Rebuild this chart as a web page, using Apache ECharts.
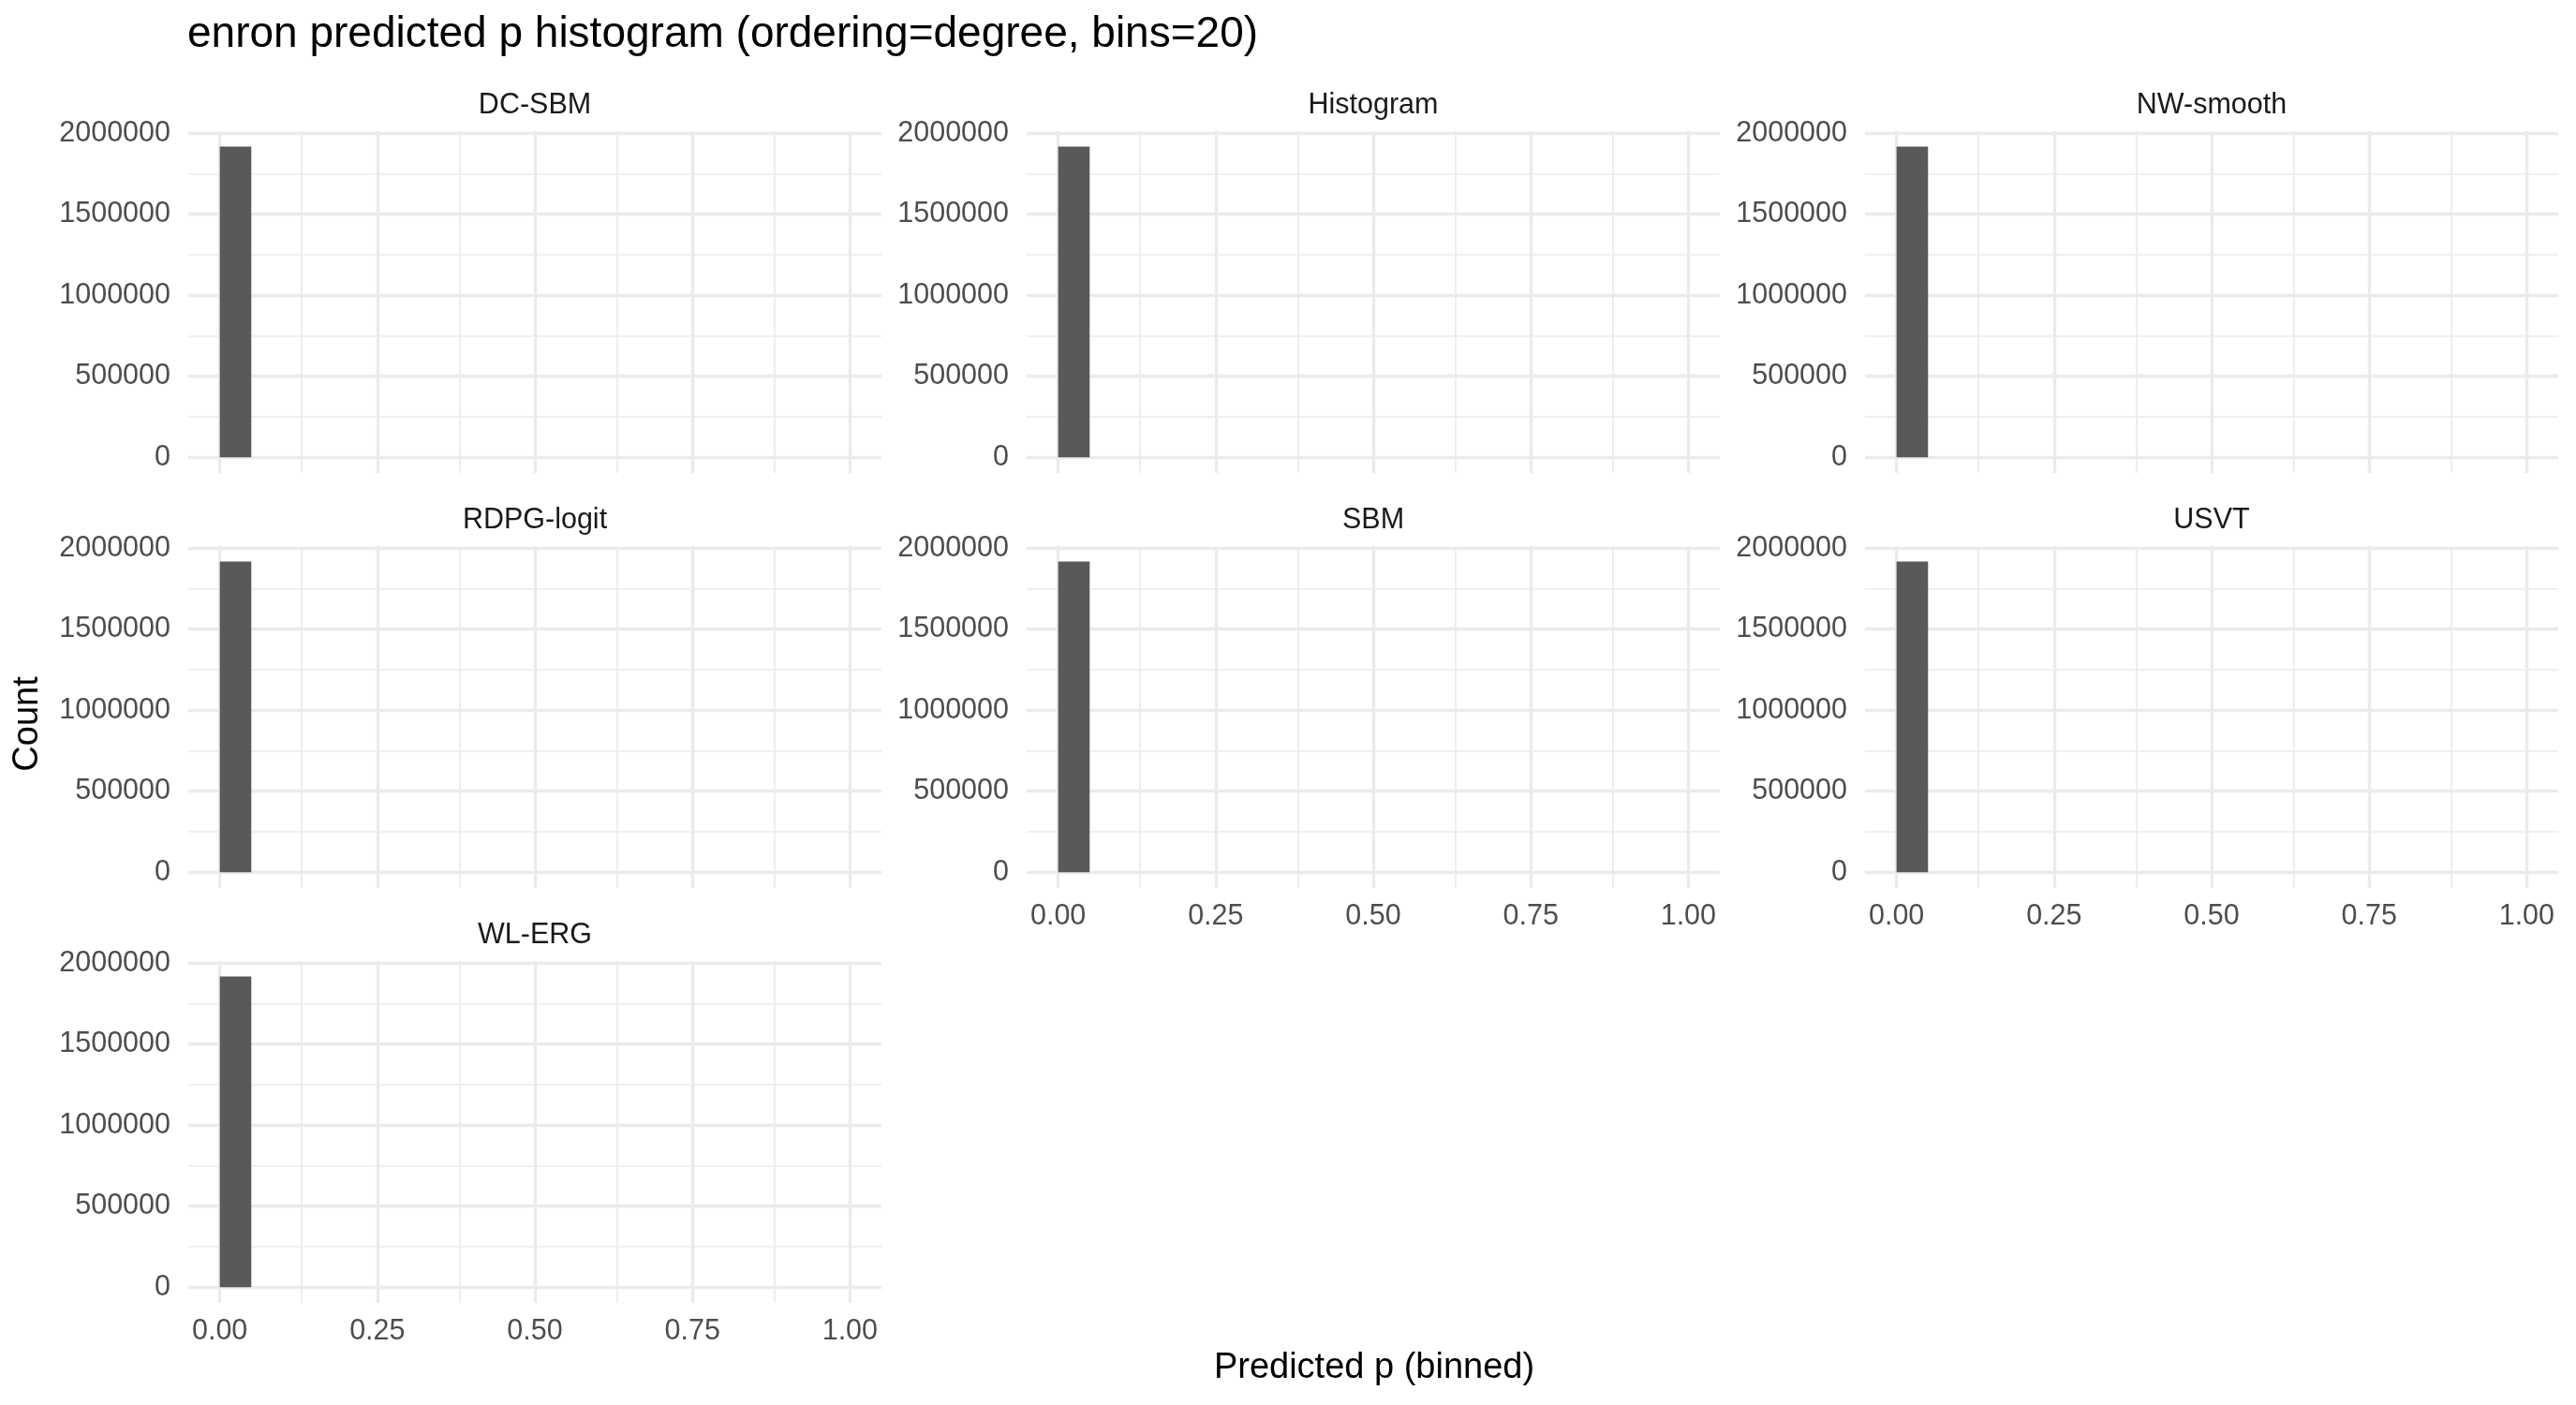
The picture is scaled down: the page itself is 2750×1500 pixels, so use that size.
<!DOCTYPE html>
<html>
<head>
<meta charset="utf-8">
<script src="https://cdn.jsdelivr.net/npm/echarts@6/dist/echarts.min.js"></script>
<style>
html,body{margin:0;padding:0;background:#fff;}
#chart{width:2750px;height:1500px;}
</style>
</head>
<body>
<div id="chart"></div>
<script>
// ---- data ----
const panelNames = ['DC-SBM', 'Histogram', 'NW-smooth', 'RDPG-logit', 'SBM', 'USVT', 'WL-ERG'];
const binLeft  = [0.00, 0.05, 0.10, 0.15, 0.20, 0.25, 0.30, 0.35, 0.40, 0.45, 0.50, 0.55, 0.60, 0.65, 0.70, 0.75, 0.80, 0.85, 0.90, 0.95];
const binRight = [0.05, 0.10, 0.15, 0.20, 0.25, 0.30, 0.35, 0.40, 0.45, 0.50, 0.55, 0.60, 0.65, 0.70, 0.75, 0.80, 0.85, 0.90, 0.95, 1.00];
const countsDCSBM     = [1917000, 0, 0, 0, 0, 0, 0, 0, 0, 0, 0, 0, 0, 0, 0, 0, 0, 0, 0, 0];
const countsHistogram = [1917000, 0, 0, 0, 0, 0, 0, 0, 0, 0, 0, 0, 0, 0, 0, 0, 0, 0, 0, 0];
const countsNWsmooth  = [1917000, 0, 0, 0, 0, 0, 0, 0, 0, 0, 0, 0, 0, 0, 0, 0, 0, 0, 0, 0];
const countsRDPGlogit = [1917000, 0, 0, 0, 0, 0, 0, 0, 0, 0, 0, 0, 0, 0, 0, 0, 0, 0, 0, 0];
const countsSBM       = [1917000, 0, 0, 0, 0, 0, 0, 0, 0, 0, 0, 0, 0, 0, 0, 0, 0, 0, 0, 0];
const countsUSVT      = [1917000, 0, 0, 0, 0, 0, 0, 0, 0, 0, 0, 0, 0, 0, 0, 0, 0, 0, 0, 0];
const countsWLERG     = [1917000, 0, 0, 0, 0, 0, 0, 0, 0, 0, 0, 0, 0, 0, 0, 0, 0, 0, 0, 0];
const xTicks = [0, 0.25, 0.5, 0.75, 1.0];
const xMinorTicks = [0.125, 0.375, 0.625, 0.875];
const yTicks = [0, 500000, 1000000, 1500000, 2000000];
const yMinorTicks = [250000, 750000, 1250000, 1750000];
const titleText = 'enron predicted p histogram (ordering=degree, bins=20)';
const xTitle = 'Predicted p (binned)';
const yTitle = 'Count';

// ---- layout ----
const allCounts = [countsDCSBM, countsHistogram, countsNWsmooth, countsRDPGlogit, countsSBM, countsUSVT, countsWLERG];
const colLeft = [201, 1096, 1991];
const rowTop = [140, 583, 1026];
const PW = 740, PH = 365;
const xMin = -0.05, xMax = 1.05;
const yMin = -97000, yMax = 2012700;
const FONT = '"Liberation Sans", Arial, Helvetica, sans-serif';
const gridColor = '#EBEBEB';

const grids = [], xAxes = [], yAxes = [], series = [], graphics = [];

panelNames.forEach((name, i) => {
  const r = Math.floor(i / 3), c = i % 3;
  const showX = (i >= 4); // bottom panel of each column
  grids.push({left: colLeft[c], top: rowTop[r], width: PW, height: PH, containLabel: false});
  xAxes.push({
    type: 'value', gridIndex: i, min: xMin, max: xMax,
    axisLine: {show: false}, axisTick: {show: false}, splitLine: {show: false},
    axisLabel: {
      show: showX, customValues: xTicks, margin: 15,
      formatter: v => Number(v).toFixed(2),
      color: '#4D4D4D', fontSize: 30.5, fontFamily: FONT
    }
  });
  yAxes.push({
    type: 'value', gridIndex: i, min: yMin, max: yMax,
    axisLine: {show: false}, axisTick: {show: false}, splitLine: {show: false},
    axisLabel: {
      show: true, customValues: yTicks, margin: 19,
      formatter: v => String(Math.round(v)),
      color: '#4D4D4D', fontSize: 30.5, fontFamily: FONT
    }
  });
  const mlData = [];
  xMinorTicks.forEach(v => mlData.push({xAxis: v, lineStyle: {width: 1.7, color: gridColor, type: 'solid'}}));
  yMinorTicks.forEach(v => mlData.push({yAxis: v, lineStyle: {width: 1.7, color: gridColor, type: 'solid'}}));
  xTicks.forEach(v => mlData.push({xAxis: v, lineStyle: {width: 3.4, color: gridColor, type: 'solid'}}));
  yTicks.forEach(v => mlData.push({yAxis: v, lineStyle: {width: 3.4, color: gridColor, type: 'solid'}}));
  series.push({
    type: 'line', xAxisIndex: i, yAxisIndex: i, data: [], z: 1,
    silent: true, animation: false,
    markLine: {
      silent: true, animation: false, symbol: ['none', 'none'],
      label: {show: false}, emphasis: {disabled: true},
      lineStyle: {color: gridColor, type: 'solid'},
      data: mlData
    }
  });
  const counts = allCounts[i];
  const barData = [];
  for (let k = 0; k < counts.length; k++) {
    if (counts[k] > 0) barData.push([binLeft[k], binRight[k], counts[k]]);
  }
  series.push({
    type: 'custom', xAxisIndex: i, yAxisIndex: i, z: 10, silent: true, animation: false,
    data: barData,
    encode: {x: [0, 1], y: 2},
    renderItem: (params, api) => {
      const p0 = api.coord([api.value(0), 0]);
      const p1 = api.coord([api.value(1), api.value(2)]);
      return {
        type: 'rect',
        shape: {x: p0[0], y: p1[1], width: p1[0] - p0[0], height: p0[1] - p1[1]},
        style: {fill: '#595959'}
      };
    }
  });
  graphics.push({
    type: 'text', x: colLeft[c] + PW / 2, y: rowTop[r] - 27, silent: true,
    style: {text: name, font: '30.5px ' + FONT, fill: '#1A1A1A', textAlign: 'center', textVerticalAlign: 'middle'}
  });
});

graphics.push({
  type: 'text', x: 200, y: 37, silent: true,
  style: {text: titleText, font: '46px ' + FONT, fill: '#000', textAlign: 'left', textVerticalAlign: 'middle'}
});
graphics.push({
  type: 'text', x: 1467, y: 1461, silent: true,
  style: {text: xTitle, font: '38px ' + FONT, fill: '#000', textAlign: 'center', textVerticalAlign: 'middle'}
});
graphics.push({
  type: 'text', x: 30, y: 773, rotation: Math.PI / 2, silent: true,
  style: {text: yTitle, font: '38px ' + FONT, fill: '#000', textAlign: 'center', textVerticalAlign: 'middle'}
});

const chart = echarts.init(document.getElementById('chart'), null, {renderer: 'canvas'});
chart.setOption({
  backgroundColor: '#fff',
  animation: false,
  grid: grids,
  xAxis: xAxes,
  yAxis: yAxes,
  series: series,
  graphic: graphics
});
</script>
</body>
</html>
